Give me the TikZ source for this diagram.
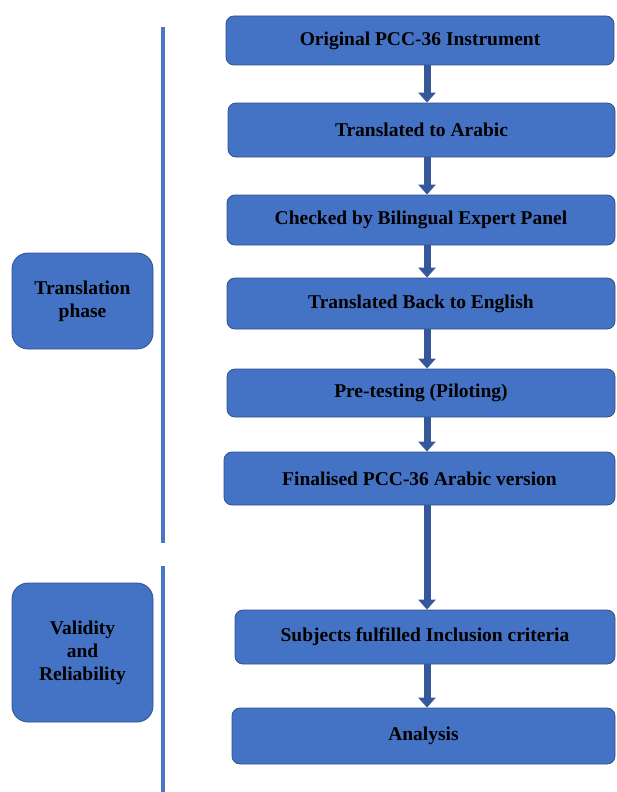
\documentclass[tikz,border=0pt]{standalone}
\usepackage{fontspec}
\setmainfont{Liberation Serif}
\usetikzlibrary{arrows.meta}
\definecolor{boxblue}{HTML}{4472C4}
\definecolor{boxedge}{HTML}{2F528F}
\definecolor{arrblue}{HTML}{34589A}
\definecolor{lineblue}{HTML}{4A78C8}
\begin{document}
\begin{tikzpicture}[x=1pt,y=-1pt,
  stepbox/.style={draw=boxedge, line width=0.8pt, fill=boxblue, rounded corners=8pt,
    inner sep=0pt, align=center, font=\bfseries\fontsize{19.5}{23}\selectfont},
  sidebox/.style={stepbox, rounded corners=16pt},
  arr/.style={draw=arrblue, line width=7pt, -{Triangle[width=17pt,length=10pt]}},
  sideline/.style={draw=lineblue, line width=3.5pt}
]
\useasboundingbox (0,0) rectangle (616,792);
% flow boxes
\node[stepbox, minimum width=388pt, minimum height=49pt] (b1) at (420,40.5) {Original PCC-36 Instrument};
\node[stepbox, minimum width=387pt, minimum height=54pt] (b2) at (421.5,130) {Translated to Arabic};
\node[stepbox, minimum width=388pt, minimum height=50pt] (b3) at (421,220) {Checked by Bilingual Expert Panel};
\node[stepbox, minimum width=388pt, minimum height=51pt] (b4) at (421,303.5) {Translated Back to English};
\node[stepbox, minimum width=388pt, minimum height=48pt] (b5) at (421,393) {Pre-testing (Piloting)};
\node[stepbox, minimum width=391pt, minimum height=53pt] (b6) at (419.5,478.5) {Finalised PCC-36 Arabic version};
\node[stepbox, minimum width=380pt, minimum height=54pt] (b7) at (425,637) {Subjects fulfilled Inclusion criteria};
\node[stepbox, minimum width=383pt, minimum height=56pt] (b8) at (423.5,736) {Analysis};
% side boxes
\node[sidebox, minimum width=141pt, minimum height=96pt] (l1) at (82.5,301) {Translation\\phase};
\node[sidebox, minimum width=141pt, minimum height=139pt] (l2) at (82.5,652.5) {Validity\\and\\Reliability};
% arrows
\coordinate (ax) at (427,0);
\draw[arr] (b1.south -| ax) -- (b2.north -| ax);
\draw[arr] (b2.south -| ax) -- (b3.north -| ax);
\draw[arr] (b3.south -| ax) -- (b4.north -| ax);
\draw[arr] (b4.south -| ax) -- (b5.north -| ax);
\draw[arr] (b5.south -| ax) -- (b6.north -| ax);
\draw[arr] (b6.south -| ax) -- (b7.north -| ax);
\draw[arr] (b7.south -| ax) -- (b8.north -| ax);
% bracket lines
\coordinate (s1a) at (163,27);
\coordinate (s1b) at (163,543);
\coordinate (s2a) at (163,566);
\coordinate (s2b) at (163,792);
\draw[sideline] (s1a) -- (s1b);
\draw[sideline] (s2a) -- (s2b);
\end{tikzpicture}
\end{document}
